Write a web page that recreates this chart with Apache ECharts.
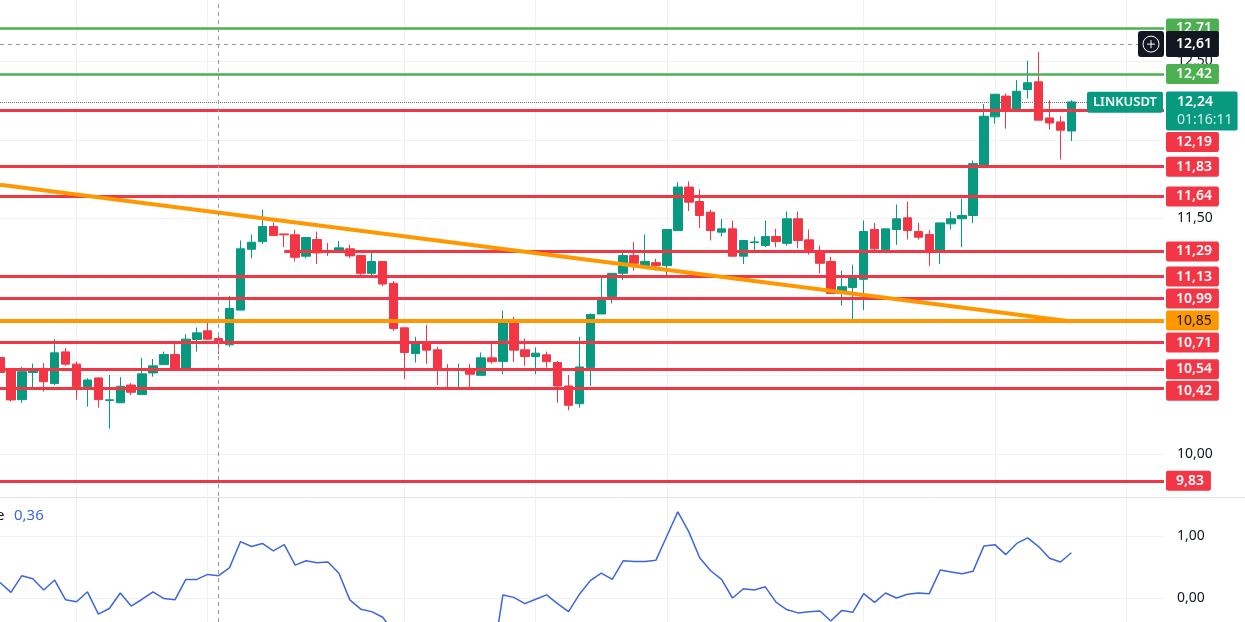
<!DOCTYPE html>
<html><head><meta charset="utf-8">
<script src="https://cdn.jsdelivr.net/npm/echarts@6/dist/echarts.min.js"></script>
<style>html,body{margin:0;padding:0;background:#fff;overflow:hidden}#c{width:1245px;height:622px}</style>
</head><body><div id="c"></div>
<script>
// ---------- data ----------
const OPEN = [10.615,10.54,10.347,10.52,10.541,10.449,10.651,10.573,10.43,10.485,
10.342,10.327,10.44,10.379,10.517,10.57,10.634,10.534,10.73,10.785,
10.736,10.696,10.917,11.304,11.353,11.449,11.402,11.396,11.26,11.366,
11.295,11.289,11.307,11.264,11.151,11.226,11.087,10.804,10.64,10.71,
10.664,10.536,10.532,10.541,10.502,10.613,10.589,10.855,10.664,10.621,
10.632,10.583,10.434,10.321,10.551,10.892,11.002,11.151,11.264,11.20,
11.219,11.20,11.423,11.70,11.608,11.54,11.413,11.434,11.26,11.347,
11.328,11.385,11.342,11.498,11.364,11.291,11.226,11.023,11.061,11.113,
11.43,11.302,11.43,11.504,11.417,11.398,11.285,11.466,11.498,11.519,
11.832,12.147,12.279,12.185,12.321,12.37,12.14,12.115,12.057];
const HIGH = [10.66,10.545,10.555,10.576,10.58,10.732,10.675,10.589,10.483,10.49,
10.504,10.49,10.453,10.613,10.606,10.653,10.70,10.764,10.806,10.84,
10.76,11.008,11.36,11.398,11.557,11.474,11.402,11.428,11.379,11.417,
11.345,11.357,11.334,11.264,11.283,11.226,11.102,10.804,10.747,10.823,
10.683,10.573,10.576,10.573,10.647,10.70,10.913,10.874,10.736,10.679,
10.653,10.594,10.504,10.747,10.896,11.136,11.151,11.281,11.349,11.398,
11.243,11.43,11.732,11.736,11.685,11.555,11.498,11.487,11.36,11.385,
11.487,11.434,11.545,11.545,11.43,11.328,11.257,11.168,11.206,11.487,
11.472,11.434,11.589,11.608,11.472,11.428,11.472,11.545,11.626,11.87,
12.228,12.291,12.296,12.381,12.504,12.561,12.253,12.151,12.253];
const LOW = [10.49,10.335,10.327,10.423,10.398,10.44,10.562,10.347,10.302,10.296,
10.162,10.327,10.377,10.379,10.493,10.57,10.536,10.534,10.653,10.732,
10.636,10.683,10.917,11.247,11.338,11.391,11.317,11.226,11.247,11.211,
11.262,11.289,11.249,11.136,11.128,11.068,10.785,10.477,10.583,10.576,
10.44,10.423,10.423,10.423,10.502,10.576,10.509,10.587,10.562,10.509,
10.551,10.327,10.279,10.296,10.434,10.892,10.959,11.109,11.168,11.20,
11.168,11.125,11.423,11.547,11.44,11.36,11.385,11.26,11.21,11.296,
11.317,11.317,11.328,11.31,11.27,11.151,11.023,10.945,10.838,10.917,
11.296,11.285,11.332,11.366,11.366,11.196,11.21,11.43,11.317,11.47,
11.832,12.104,12.072,12.185,12.264,12.126,12.066,11.875,11.993];
const CLOSE = [10.52,10.345,10.525,10.535,10.461,10.645,10.573,10.43,10.472,10.347,
10.346,10.432,10.394,10.511,10.562,10.634,10.536,10.732,10.772,10.732,
10.71,10.927,11.307,11.349,11.449,11.391,11.396,11.253,11.379,11.281,
11.29,11.313,11.262,11.151,11.226,11.083,10.80,10.647,10.715,10.662,
10.534,10.532,10.536,10.509,10.613,10.589,10.855,10.662,10.621,10.643,
10.589,10.434,10.311,10.555,10.889,10.998,11.151,11.264,11.215,11.227,
11.20,11.43,11.70,11.604,11.519,11.423,11.434,11.26,11.36,11.351,
11.385,11.353,11.498,11.36,11.302,11.215,11.023,11.066,11.125,11.417,
11.307,11.434,11.498,11.423,11.381,11.285,11.472,11.498,11.519,11.849,
12.151,12.291,12.185,12.31,12.364,12.126,12.108,12.062,12.242];
const INDICATOR = [0.25,0.09,0.36,0.31,0.13,0.29,-0.03,-0.06,0.10,-0.26,
-0.17,0.08,-0.13,-0.02,0.10,-0.01,-0.03,0.30,0.30,0.38,
0.36,0.49,0.91,0.83,0.88,0.76,0.86,0.53,0.60,0.57,
0.58,0.40,-0.03,-0.18,-0.22,-0.31,-0.54,-0.85,-0.90,-0.95,
-1.10,-1.20,-1.20,-1.25,-1.20,-1.08,0.05,0.01,-0.09,-0.02,
0.05,-0.09,-0.22,0.06,0.28,0.40,0.30,0.60,0.59,0.59,
0.61,1.00,1.39,1.07,0.65,0.44,0.30,0.00,0.15,0.13,
0.18,-0.07,-0.19,-0.24,-0.22,-0.21,-0.37,-0.20,-0.23,0.07,
-0.07,0.08,0.00,0.06,0.08,0.07,0.45,0.42,0.39,0.43,
0.84,0.86,0.70,0.88,0.97,0.83,0.64,0.58,0.73];

const RED_LEVELS = [12.19, 11.83, 11.64, 11.13, 10.99, 10.71, 10.54, 10.42, 9.83];
const PARTIAL_LEVEL = 11.29;
const PARTIAL_LEVEL_START = 26;
const GREEN_LEVELS = [12.71, 12.42];
const ORANGE_LEVEL = 10.85;
const TREND_START = [0, 11.715];
const TREND_END = [98, 10.845];
const LAST_PRICE = 12.24;
const COUNTDOWN = '01:16:11';
const SYMBOL = 'LINKUSDT';
const CROSS_PRICE = 12.61;
const CROSS_INDEX = 20;
const PRICE_TICKS = [10.0, 10.5, 11.0, 11.5, 12.0, 12.5];
const IND_TICKS = [0, 1];
const TIME_GRID_IDX = [7, 19, 37, 49, 61, 79, 91, 103];
const X_RANGE = [0, 106.47];          // visible bar-index window
const PRICE_RANGE = [9.7336, 12.8908];
const IND_RANGE = [-0.3871, 1.6129];

// ---------- styles / layout ----------
const FONT = '"Noto Sans", "DejaVu Sans", sans-serif';
const UP = '#089981', DOWN = '#F23645', RED = '#F23645', GREEN = '#4CAF50', ORANGE = '#FF9800';
const GRIDC = '#eff1f5', CROSS = '#9598a1', BLUE = '#3d67d9', TXT = '#131722';
const GRID_LEFT = 0, GRID_RIGHT = 81, MAIN_TOP = 0, MAIN_H = 496, IND_TOP = 498;
const W = 1245;
const AX = 1166;

const candles = OPEN.map((o, i) => [i, o, CLOSE[i], LOW[i], HIGH[i]]);
const indData = INDICATOR.map((v, i) => [i, v]);
const fmt = v => v.toFixed(2).replace('.', ',');

const crossStyle = {color: CROSS, type: [4, 4], width: 1};

const option = {
  animation: false,
  backgroundColor: '#ffffff',
  grid: [
    {left: GRID_LEFT, right: GRID_RIGHT, top: MAIN_TOP, height: MAIN_H},
    {left: GRID_LEFT, right: GRID_RIGHT, top: IND_TOP, bottom: 0}
  ],
  xAxis: [
    {type: 'value', gridIndex: 0, min: X_RANGE[0], max: X_RANGE[1], show: false},
    {type: 'value', gridIndex: 1, min: X_RANGE[0], max: X_RANGE[1], show: false}
  ],
  yAxis: [
    {type: 'value', gridIndex: 0, min: PRICE_RANGE[0], max: PRICE_RANGE[1], show: false},
    {type: 'value', gridIndex: 1, min: IND_RANGE[0], max: IND_RANGE[1], show: false}
  ],
  series: [
    { // main pane grid
      type: 'line', xAxisIndex: 0, yAxisIndex: 0, data: [], silent: true, z: 0,
      markLine: {
        silent: true, symbol: ['none', 'none'], z: 1, label: {show: false},
        lineStyle: {color: GRIDC, width: 1, type: 'solid'},
        data: [...PRICE_TICKS.map(v => ({yAxis: v})), ...TIME_GRID_IDX.map(i => ({xAxis: i}))]
      }
    },
    { // indicator pane grid + crosshair
      type: 'line', xAxisIndex: 1, yAxisIndex: 1, data: [], silent: true, z: 0,
      markLine: {
        silent: true, symbol: ['none', 'none'], z: 1, label: {show: false},
        lineStyle: {color: GRIDC, width: 1, type: 'solid'},
        data: [...IND_TICKS.map(v => ({yAxis: v})), ...TIME_GRID_IDX.map(i => ({xAxis: i})),
               {xAxis: CROSS_INDEX, lineStyle: crossStyle}]
      }
    },
    {
      type: 'candlestick', xAxisIndex: 0, yAxisIndex: 0, data: candles, barWidth: 9, z: 2,
      itemStyle: {color: UP, color0: DOWN, borderColor: UP, borderColor0: DOWN, borderWidth: 1}
    },
    { // drawings
      type: 'line', xAxisIndex: 0, yAxisIndex: 0, data: [], silent: true, z: 3,
      markLine: {
        silent: true, symbol: ['none', 'none'], z: 3, label: {show: false},
        data: [
          ...RED_LEVELS.map(v => ({yAxis: v, lineStyle: {color: RED, width: 3, type: 'solid'}})),
          [{coord: [PARTIAL_LEVEL_START, PARTIAL_LEVEL], lineStyle: {color: RED, width: 3, type: 'solid'}},
           {coord: [X_RANGE[1], PARTIAL_LEVEL]}],
          ...GREEN_LEVELS.map(v => ({yAxis: v, lineStyle: {color: GREEN, width: 2.5, type: 'solid'}})),
          {yAxis: ORANGE_LEVEL, lineStyle: {color: ORANGE, width: 4, type: 'solid'}},
          [{coord: TREND_START, lineStyle: {color: ORANGE, width: 4, type: 'solid'}},
           {coord: TREND_END}],
          {yAxis: LAST_PRICE, lineStyle: {color: '#6a6d78', width: 1, type: 'dotted'}},
          {yAxis: CROSS_PRICE, lineStyle: crossStyle},
          {xAxis: CROSS_INDEX, lineStyle: crossStyle}
        ]
      }
    },
    {
      type: 'line', xAxisIndex: 1, yAxisIndex: 1, data: indData, showSymbol: false, symbol: 'none',
      lineStyle: {color: BLUE, width: 1.5}, z: 3, silent: true
    }
  ]
};

const chart = echarts.init(document.getElementById('c'));
chart.setOption(option);

const yP = v => chart.convertToPixel({yAxisIndex: 0}, v);
const yI = v => chart.convertToPixel({yAxisIndex: 1}, v);

const els = [];
// pane separator
els.push({type: 'line', z: 6, shape: {x1: 0, y1: IND_TOP - 0.5, x2: W, y2: IND_TOP - 0.5},
          style: {stroke: '#e0e3eb', lineWidth: 1}});

// level labels with overlap avoidance (push down)
const labels = [];
GREEN_LEVELS.forEach(v => labels.push({v, bg: GREEN, fg: '#ffffff', w: '600'}));
RED_LEVELS.concat([PARTIAL_LEVEL]).forEach(v => labels.push({v, bg: RED, fg: '#ffffff', w: '600'}));
labels.push({v: ORANGE_LEVEL, bg: ORANGE, fg: TXT, w: '400'});
labels.push({v: LAST_PRICE, big: true});
labels.sort((a, b) => b.v - a.v);
const boxes = [];
let prevBottom = -1e9;
labels.forEach(l => {
  const y = yP(l.v);
  const h = l.big ? 39 : 20;
  let top = l.big ? y - 10.75 : y - h / 2;
  if (top < prevBottom + 1.5) top = prevBottom + 1.5;
  prevBottom = top + h;
  boxes.push([top, top + h]);
  if (l.big) {
    els.push({type: 'text', z: 11, style: {
      text: `{a|${fmt(l.v)}}\n{b|${COUNTDOWN}}`, x: AX, y: top, align: 'left', verticalAlign: 'top',
      backgroundColor: UP, padding: [2, 5, 2, 11], borderRadius: 2,
      rich: {a: {fill: '#ffffff', font: `600 14px ${FONT}`, lineHeight: 17.5},
             b: {fill: '#d5efe9', font: `14px ${FONT}`, lineHeight: 17.5}}}});
  } else {
    els.push({type: 'text', z: 10, style: {
      text: fmt(l.v), x: AX, y: top, align: 'left', verticalAlign: 'top', fill: l.fg,
      font: `${l.w} 14px ${FONT}`, lineHeight: 16, backgroundColor: l.bg, padding: [2, 7, 2, 10], borderRadius: 2}});
  }
});
// price scale tick labels (hidden when they fall inside a level label)
PRICE_TICKS.forEach(v => {
  const y = yP(v);
  if (boxes.some(b => y >= b[0] && y <= b[1])) return;
  els.push({type: 'text', z: 6, style: {
    text: fmt(v), x: AX + 11, y, align: 'left', verticalAlign: 'middle', fill: TXT, font: `14px ${FONT}`}});
});
IND_TICKS.forEach(v => els.push({type: 'text', z: 6, style: {
  text: fmt(v), x: AX + 11, y: yI(v), align: 'left', verticalAlign: 'middle', fill: TXT, font: `14px ${FONT}`}}));

// symbol label on last price line
els.push({type: 'text', z: 11, style: {
  text: SYMBOL, x: AX - 3, y: yP(LAST_PRICE), align: 'right', verticalAlign: 'middle', fill: '#ffffff',
  font: `600 13px ${FONT}`, lineHeight: 16, backgroundColor: UP, padding: [3, 6, 2, 6], borderRadius: 2}});
// crosshair price label + plus button
const yc = yP(CROSS_PRICE);
els.push({type: 'text', z: 12, style: {
  text: fmt(CROSS_PRICE), x: AX, y: yc, align: 'left', verticalAlign: 'middle', fill: '#ffffff',
  font: `600 14px ${FONT}`, lineHeight: 16, backgroundColor: TXT, padding: [5, 7, 5, 10], borderRadius: 2}});
els.push({type: 'rect', z: 12, shape: {x: AX - 28, y: yc - 13, width: 26, height: 26, r: 3}, style: {fill: TXT}});
els.push({type: 'circle', z: 13, shape: {cx: AX - 15, cy: yc, r: 8}, style: {fill: 'none', stroke: '#ffffff', lineWidth: 1}});
els.push({type: 'line', z: 13, shape: {x1: AX - 15, y1: yc - 4, x2: AX - 15, y2: yc + 4}, style: {stroke: '#ffffff', lineWidth: 1}});
els.push({type: 'line', z: 13, shape: {x1: AX - 19, y1: yc, x2: AX - 11, y2: yc}, style: {stroke: '#ffffff', lineWidth: 1}});
// indicator legend value
els.push({type: 'text', z: 12, style: {text: 'e', x: -4, y: IND_TOP + 18, verticalAlign: 'middle', fill: TXT, font: `15px ${FONT}`}});
els.push({type: 'text', z: 12, style: {text: fmt(INDICATOR[CROSS_INDEX]), x: 14, y: IND_TOP + 18, verticalAlign: 'middle', fill: BLUE, font: `15px ${FONT}`}});

chart.setOption({graphic: {elements: els}});
</script>
</body></html>
